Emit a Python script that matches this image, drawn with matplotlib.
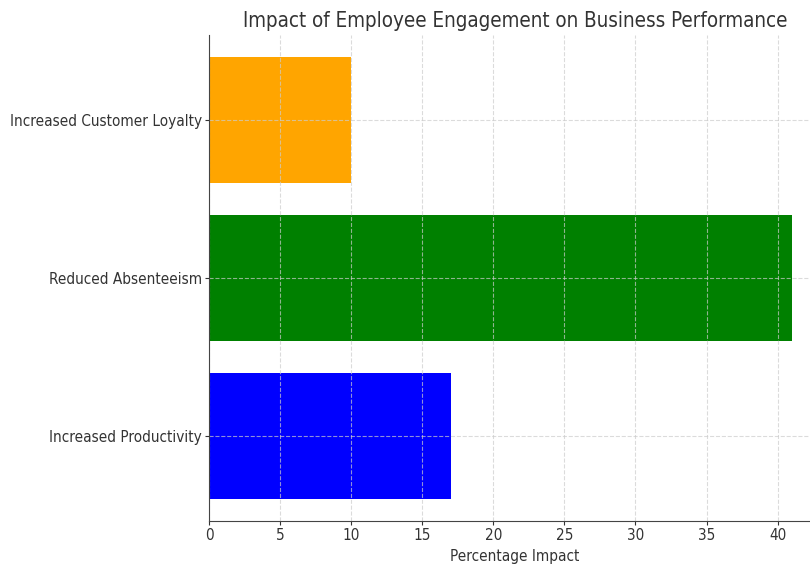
import matplotlib
matplotlib.use("Agg")
import matplotlib.pyplot as plt

# data
categories = ["Increased Productivity", "Reduced Absenteeism", "Increased Customer Loyalty"]
impact = [17, 41, 10]
colors = ["blue", "green", "orange"]

plt.rcParams["font.family"] = ["DejaVu Sans"]
plt.rcParams["font.stretch"] = "condensed"

fig = plt.figure(figsize=(8.1, 5.67), dpi=100)
ax = fig.add_axes([209 / 810, 46 / 567, 612 / 810, 486 / 567])

ax.barh(categories, impact, color=colors, height=0.8)

ax.set_title("Impact of Employee Engagement on Business Performance", fontsize=14.8, color="#333333")
ax.set_xlabel("Percentage Impact", fontsize=11, color="#333333")
ax.tick_params(labelsize=11, colors="#333333", length=3, pad=2)
ax.grid(True, linestyle="--", color="#cccccc", alpha=0.7)

for s in ["top", "right"]:
    ax.spines[s].set_visible(False)
for s in ["left", "bottom"]:
    ax.spines[s].set_color("#444444")

fig.savefig("out.png", dpi=100)
